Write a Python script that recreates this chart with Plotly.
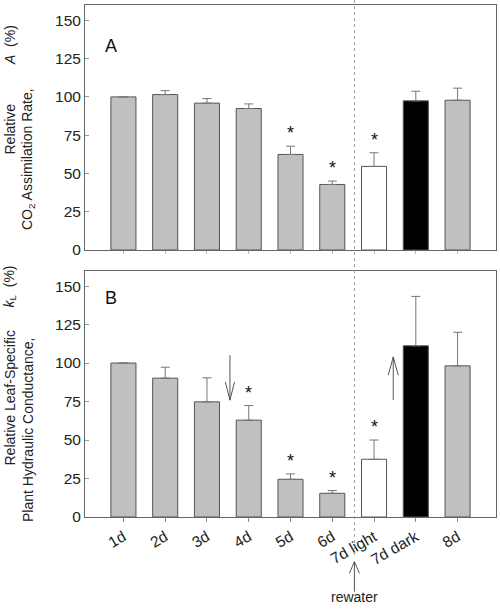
import plotly.graph_objects as go

# ---------------- data ----------------
categories = ["1d", "2d", "3d", "4d", "5d", "6d", "7d light", "7d dark", "8d"]
assim_mean = [100.0, 101.5, 95.9, 92.4, 62.4, 42.8, 54.6, 97.4, 97.8]
assim_err = [None, 2.6, 3.0, 3.0, 5.4, 2.2, 8.9, 6.3, 7.9]
assim_sig = [0, 0, 0, 0, 1, 1, 1, 0, 0]
cond_mean = [100.0, 90.2, 74.8, 62.9, 24.5, 15.4, 37.5, 111.2, 98.2]
cond_err = [None, 7.1, 15.6, 9.5, 3.5, 1.8, 12.5, 32.1, 21.8]
cond_sig = [0, 0, 0, 1, 1, 1, 1, 0, 0]
bar_fill = ["#c0c0c0"] * 6 + ["#ffffff", "#000000", "#c0c0c0"]
y_ticks = [0, 25, 50, 75, 100, 125, 150]

FONT = "Arial, Liberation Sans, sans-serif"
EDGE = "#555555"
W, H = 500, 614
ML, MR, MT, MB = 85, 4, 5, 97
PH = H - MT - MB  # plot height in px


def py(px):
    """pixel row -> paper y"""
    return (H - MB - px) / PH


def px_x(px):
    return (px - ML) / (W - ML - MR)


fig = go.Figure()

for mean, err, xa, ya in [(assim_mean, assim_err, "x", "y"), (cond_mean, cond_err, "x2", "y2")]:
    fig.add_trace(go.Bar(
        x=categories, y=mean, xaxis=xa, yaxis=ya, width=0.6,
        marker=dict(color=bar_fill, line=dict(color=EDGE, width=1)),
        error_y=dict(type="data", symmetric=False, array=err, arrayminus=[0] * len(err),
                     color="#777777", thickness=1, width=4.5),
        showlegend=False, hoverinfo="skip",
    ))

annotations = []
# significance stars
for mean, err, sig, xa, ya in [(assim_mean, assim_err, assim_sig, "x", "y"),
                               (cond_mean, cond_err, cond_sig, "x2", "y2")]:
    for i, (m, e, s) in enumerate(zip(mean, err, sig)):
        if s:
            annotations.append(dict(x=categories[i], y=m + (e or 0), xref=xa, yref=ya, text="*",
                                    showarrow=False, yanchor="bottom", yshift=1,
                                    font=dict(family=FONT, size=18, color="#111")))

# panel letters
annotations.append(dict(x=px_x(103), y=py(33.5), xref="paper", yref="paper", text="A",
                        showarrow=False, font=dict(family=FONT, size=18, color="#111")))
annotations.append(dict(x=px_x(103), y=py(297.5), xref="paper", yref="paper", text="B",
                        showarrow=False, font=dict(family=FONT, size=18, color="#111")))

# y-axis titles
tf = dict(family=FONT, size=14, color="#222")
for text, xpx, ypx in [
    ("Relative", 9.5, 129),
    ("<i>A</i>  (%)", 9.5, 45.6),
    ("CO<sub>2</sub> Assimilation Rate,", 28, 159),
    ("Relative Leaf-Specific", 9.5, 398),
    ("<i>k</i><sub>L</sub>  (%)", 9.5, 287),
    ("Plant Hydraulic Conductance,", 28, 430),
]:
    annotations.append(dict(x=px_x(xpx), y=py(ypx), xref="paper", yref="paper", text=text,
                            textangle=-90, showarrow=False, xanchor="center", yanchor="middle",
                            font=tf))

annotations.append(dict(x=5.53, y=py(607), xref="x2", yref="paper", text="rewater",
                        showarrow=False, font=dict(family=FONT, size=14, color="#222")))

shapes = []
# dotted separator
shapes.append(dict(type="line", xref="x", yref="paper", x0=5.53, x1=5.53, y0=py(0), y1=py(558),
                   line=dict(color="#a0a0a0", width=1, dash="dot")))


def arrow(x, y_tail, y_tip, y_head, half, xref, yref):
    shapes.append(dict(type="line", xref=xref, yref=yref, x0=x, x1=x, y0=y_tail, y1=y_tip,
                       line=dict(color=EDGE, width=1)))
    shapes.append(dict(type="path", xref=xref, yref=yref,
                       path=f"M {x - half},{y_head} L {x},{y_tip} L {x + half},{y_head}",
                       line=dict(color=EDGE, width=1)))


arrow(2.55, 105.1, 75.9, 87.8, 0.11, "x2", "y2")
arrow(6.46, 75.9, 104.0, 92.1, 0.12, "x2", "y2")
arrow(5.53, py(591.7), py(561.7), py(573.3), 0.12, "x2", "paper")

xr = [-0.92, 8.92]
axis_common = dict(showline=True, linecolor="#666", linewidth=1, mirror=True,
                   showgrid=False, zeroline=False, automargin=False)
fig.update_layout(
    width=W, height=H, margin=dict(l=ML, r=MR, t=MT, b=MB, autoexpand=False),
    paper_bgcolor="white", plot_bgcolor="white", bargap=0.4,
    font=dict(family=FONT, size=15.5, color="#222"),
    xaxis=dict(domain=[0, 1], anchor="y", range=xr, type="category", showticklabels=False,
               ticks="outside", ticklen=3, tickcolor="#bbb", **axis_common),
    yaxis=dict(domain=[py(250), 1], anchor="x", range=[0, 160], tickvals=y_ticks,
               ticks="inside", ticklen=4, tickcolor="#999", **axis_common),
    xaxis2=dict(domain=[0, 1], anchor="y2", range=xr, type="category", tickangle=-30,
                ticks="outside", ticklen=4, tickcolor="#888", **axis_common),
    yaxis2=dict(domain=[0, py(270.7)], anchor="x2", range=[0, 160], tickvals=y_ticks,
                ticks="inside", ticklen=4, tickcolor="#999", **axis_common),
    annotations=annotations, shapes=shapes,
)

fig.write_html("out.html", config={"displayModeBar": False},
               post_script="document.body.style.margin='0';document.body.style.overflow='hidden';")
